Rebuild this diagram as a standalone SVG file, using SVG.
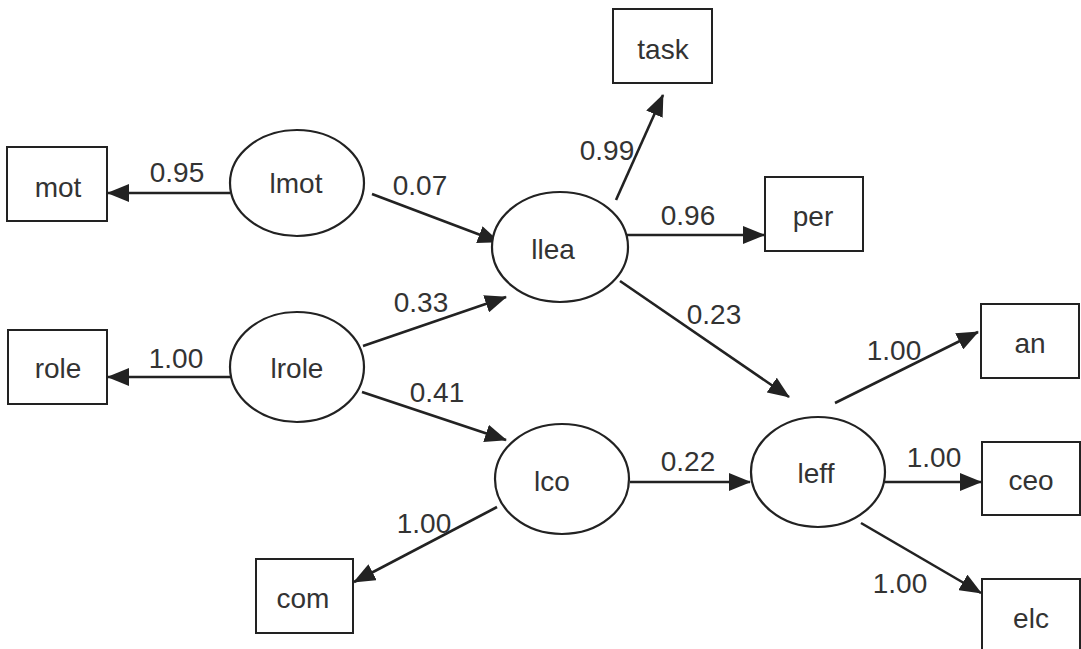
<svg xmlns="http://www.w3.org/2000/svg" width="1081" height="649" viewBox="0 0 1081 649">
<style>
.box{fill:#fff;stroke:#222;stroke-width:2}
.lat{fill:#fff;stroke:#222;stroke-width:2.2}
.t{font-family:"Liberation Sans",Arial,sans-serif;font-size:28px;fill:#333;text-anchor:middle}
.c{stroke:#222;stroke-width:2.6;fill:none;marker-end:url(#ah)}
</style>
<defs>
<marker id="ah" viewBox="0 0 22 18" refX="21" refY="9" markerWidth="22" markerHeight="18" markerUnits="userSpaceOnUse" orient="auto">
<path d="M0,0 L22,9 L0,18 z" fill="#222"/>
</marker>
</defs>
<rect width="1081" height="649" fill="#fff"/>
<g id="connectors">
<line class="c" x1="230" y1="193" x2="108" y2="193"/>
<text class="t" x="177" y="182">0.95</text>
<line class="c" x1="372" y1="194" x2="499" y2="242"/>
<text class="t" x="420" y="195">0.07</text>
<line class="c" x1="616" y1="200" x2="663" y2="95"/>
<text class="t" x="607" y="160">0.99</text>
<line class="c" x1="622" y1="235" x2="764" y2="235"/>
<text class="t" x="688" y="225">0.96</text>
<line class="c" x1="620" y1="281" x2="789" y2="397"/>
<text class="t" x="714" y="324">0.23</text>
<line class="c" x1="231" y1="377" x2="108" y2="377"/>
<text class="t" x="176" y="368">1.00</text>
<line class="c" x1="363" y1="346" x2="506" y2="297"/>
<text class="t" x="421" y="312">0.33</text>
<line class="c" x1="362" y1="392" x2="506" y2="440"/>
<text class="t" x="437" y="402">0.41</text>
<line class="c" x1="497" y1="507" x2="354" y2="582"/>
<text class="t" x="424" y="533">1.00</text>
<line class="c" x1="630" y1="482" x2="750" y2="482"/>
<text class="t" x="688" y="471">0.22</text>
<line class="c" x1="835" y1="403" x2="978" y2="332"/>
<text class="t" x="894" y="360">1.00</text>
<line class="c" x1="885" y1="482" x2="981" y2="482"/>
<text class="t" x="934" y="467">1.00</text>
<line class="c" x1="861" y1="523" x2="981" y2="593"/>
<text class="t" x="900" y="593">1.00</text>
</g>
<g id="mot"><rect class="box" x="7" y="147" width="100" height="74"/><text class="t" x="58" y="197">mot</text></g>
<g id="role"><rect class="box" x="8" y="330" width="99" height="74"/><text class="t" x="58" y="378">role</text></g>
<g id="task"><rect class="box" x="613" y="9" width="99" height="74"/><text class="t" x="663" y="59">task</text></g>
<g id="per"><rect class="box" x="765" y="177" width="98" height="74"/><text class="t" x="813" y="226">per</text></g>
<g id="com"><rect class="box" x="256" y="559" width="97" height="74"/><text class="t" x="303" y="608">com</text></g>
<g id="an"><rect class="box" x="981" y="304" width="98" height="74"/><text class="t" x="1030" y="353">an</text></g>
<g id="ceo"><rect class="box" x="982" y="442" width="98" height="73"/><text class="t" x="1031" y="490">ceo</text></g>
<g id="elc"><rect class="box" x="982" y="579" width="98" height="74"/><text class="t" x="1031" y="628">elc</text></g>
<g id="lmot"><ellipse class="lat" cx="297" cy="183" rx="67" ry="53"/><text class="t" x="296" y="193">lmot</text></g>
<g id="lrole"><ellipse class="lat" cx="297" cy="367" rx="67" ry="55"/><text class="t" x="297" y="378">lrole</text></g>
<g id="ilea"><ellipse class="lat" cx="560" cy="247" rx="68" ry="55"/><text class="t" x="553" y="259">llea</text></g>
<g id="lco"><ellipse class="lat" cx="562" cy="479" rx="67" ry="55"/><text class="t" x="552" y="491">lco</text></g>
<g id="leff"><ellipse class="lat" cx="818" cy="472" rx="67" ry="55"/><text class="t" x="816" y="483">leff</text></g>
</svg>
